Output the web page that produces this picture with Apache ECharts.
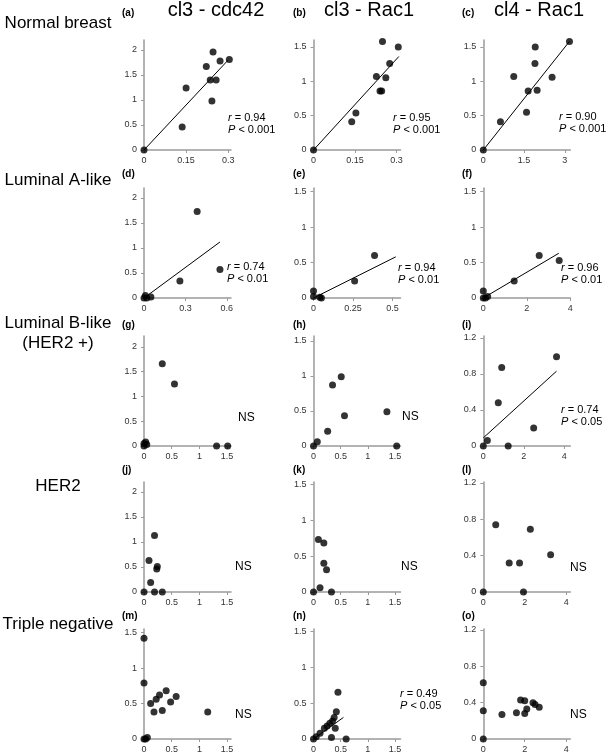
<!DOCTYPE html>
<html><head><meta charset="utf-8">
<script src="https://cdn.jsdelivr.net/npm/echarts@6/dist/echarts.min.js"></script>
<style>html,body{margin:0;padding:0;background:#fff}#c{width:607px;height:756px}</style>
</head><body><div id="c"></div>
<script>
// ---------- data ----------
const columnTitles = ['cl3 - cdc42', 'cl3 - Rac1', 'cl4 - Rac1'];
const rowLabels = ['Normal breast', 'Luminal A-like', 'Luminal B-like\n(HER2 +)', 'HER2', 'Triple negative'];
const panelLetters = ['(a)','(b)','(c)','(d)','(e)','(f)','(g)','(h)','(i)','(j)','(k)','(l)','(m)','(n)','(o)'];

// points per panel [x, y]
const ptsA = [[0,0],[0.136,0.46],[0.15,1.24],[0.222,1.67],[0.246,1.96],[0.271,1.78],[0.304,1.81],[0.236,1.4],[0.257,1.4],[0.242,0.98]];
const ptsB = [[0,0],[0.138,0.41],[0.153,0.54],[0.227,1.07],[0.249,1.58],[0.24,0.86],[0.246,0.86],[0.261,1.05],[0.275,1.26],[0.306,1.5]];
const ptsC = [[0,0],[0.63,0.41],[1.12,1.07],[1.59,0.55],[1.65,0.86],[1.91,1.5],[1.9,1.26],[1.98,0.87],[2.53,1.06],[3.17,1.58]];
const ptsD = [[0,0],[0.01,0.05],[0.05,0.02],[0.02,0],[0.385,1.73],[0.55,0.57],[0.26,0.34]];
const ptsE = [[0,0.1],[0,0.02],[0.04,0.01],[0.05,0],[0.386,0.6],[0.26,0.24]];
const ptsF = [[0,0.1],[0,0],[0.2,0.02],[0.1,0],[2.57,0.6],[3.49,0.53],[1.42,0.24]];
const ptsG = [[0,0],[0,0.05],[0.03,0.08],[0.05,0.03],[0.33,1.66],[0.55,1.25],[1.31,0],[1.51,0]];
const ptsH = [[0,0],[0.07,0.06],[0.51,0.99],[0.35,0.87],[0.57,0.43],[0.26,0.21],[1.35,0.49],[1.53,0]];
const ptsI = [[0,0],[0.2,0.06],[3.62,0.99],[0.91,0.87],[0.74,0.48],[2.49,0.2],[1.23,0]];
const ptsJ = [[0,0],[0.19,1.13],[0.09,0.63],[0.24,0.51],[0.23,0.46],[0.12,0.19],[0.19,0],[0.33,0]];
const ptsK = [[0,0],[0.09,0.73],[0.19,0.68],[0.19,0.4],[0.24,0.31],[0.12,0.06],[0.33,0]];
const ptsL = [[0,0],[0.6,0.74],[2.27,0.69],[1.25,0.32],[1.75,0.32],[3.25,0.41],[1.94,0]];
const ptsM = [[0,0],[0.03,0],[0.06,0.02],[0,1.42],[0,0.79],[0.12,0.5],[0.18,0.38],[0.22,0.56],[0.28,0.62],[0.33,0.4],[0.4,0.68],[0.48,0.52],[0.58,0.6],[1.15,0.38]];
const ptsN = [[0,0],[0.05,0.03],[0.12,0.08],[0.2,0.15],[0.25,0.18],[0.3,0.22],[0.35,0.25],[0.38,0.3],[0.4,0.15],[0.42,0.38],[0.45,0.65],[0.33,0.02],[0.6,0]];
const ptsO = [[0,0],[0,0.31],[0,0.62],[0.9,0.27],[1.6,0.29],[1.8,0.43],[2.0,0.42],[2.0,0.28],[2.1,0.33],[2.4,0.4],[2.5,0.38],[2.7,0.35]];

// regression lines (endpoints, data units)
const fitA = [[0,0],[0.3,1.8]];
const fitB = [[0,0],[0.308,1.36]];
const fitC = [[0,0],[3.17,1.58]];
const fitD = [[0,0],[0.55,1.12]];
const fitE = [[0,0],[0.52,0.58]];
const fitF = [[0,0],[3.47,0.63]];
const fitI = [[0,0.09],[3.62,0.83]];
const fitN = [[0,0],[0.55,0.3]];

// annotations
const statText = {a:['0.94','< 0.001'], b:['0.95','< 0.001'], c:['0.90','< 0.001'], d:['0.74','< 0.01'], e:['0.94','< 0.01'], f:['0.96','< 0.01'], i:['0.74','< 0.05'], n:['0.49','< 0.05']};
const nsPanels = ['g','h','j','k','l','m','o'];

// axis extents & ticks
const xMax = [0.31,0.314,3.2, 0.63,0.55,4.0, 1.57,1.6,4.3, 1.57,1.6,4.2, 1.57,1.6,4.2];
const yMax = [2.2,1.6,1.6, 2.2,1.55,1.55, 2.22,1.57,1.22, 2.2,1.53,1.21, 1.55,1.53,1.21];
const xTicks = [[0,0.15,0.3],[0,0.15,0.3],[0,1.5,3],[0,0.3,0.6],[0,0.25,0.5],[0,2,4],
  [0,0.5,1,1.5],[0,0.5,1,1.5],[0,2,4],[0,0.5,1,1.5],[0,0.5,1,1.5],[0,2,4],[0,0.5,1,1.5],[0,0.5,1,1.5],[0,2,4]];
const yTicksA = [0,0.5,1,1.5,2], yTicksB = [0,0.5,1,1.5], yTicksC = [0,0.4,0.8,1.2];
const yTicks = [yTicksA,yTicksB,yTicksB, yTicksA,yTicksB,yTicksB, yTicksA,yTicksB,yTicksC, yTicksA,yTicksB,yTicksC, yTicksB,yTicksB,yTicksC];

// ---------- layout ----------
const keys = 'abcdefghijklmno'.split('');
const allPts = [ptsA,ptsB,ptsC,ptsD,ptsE,ptsF,ptsG,ptsH,ptsI,ptsJ,ptsK,ptsL,ptsM,ptsN,ptsO];
const allFits = [fitA,fitB,fitC,fitD,fitE,fitF,null,null,fitI,null,null,null,null,fitN,null];
const colX = [144, 313.5, 483.3];
const rowBase = [150, 298, 446, 592, 739];
const W = 87, H = 110;
const axisColor = '#9a9a9a';

const grid = [], xAxis = [], yAxis = [], series = [], graphic = [];
keys.forEach((k, i) => {
  const r = Math.floor(i / 3), c = i % 3;
  grid.push({left: colX[c], top: rowBase[r] - H, width: W, height: H});
  xAxis.push({type:'value', gridIndex:i, min:0, max:xMax[i],
    axisLine:{show:true, onZero:false, lineStyle:{color:axisColor, width:1.5}},
    axisTick:{show:true, length:3, customValues:xTicks[i], lineStyle:{color:axisColor}},
    axisLabel:{customValues:xTicks[i], fontSize:9, color:'#333', margin:6, fontFamily:'Liberation Sans'},
    splitLine:{show:false}});
  yAxis.push({type:'value', gridIndex:i, min:0, max:yMax[i],
    axisLine:{show:true, onZero:false, lineStyle:{color:axisColor, width:1.5}},
    axisTick:{show:true, length:3, customValues:yTicks[i], lineStyle:{color:axisColor}},
    axisLabel:{customValues:yTicks[i], fontSize:9, color:'#333', margin:7, fontFamily:'Liberation Sans'},
    splitLine:{show:false}});
  if (allFits[i]) series.push({type:'line', xAxisIndex:i, yAxisIndex:i, data:allFits[i], symbol:'none',
    lineStyle:{color:'#000', width:1}, silent:true, z:2});
  series.push({type:'scatter', xAxisIndex:i, yAxisIndex:i, data:allPts[i], symbolSize:7, clip:false,
    itemStyle:{color:'#000'}, z:3});
});

// panel letters
const letterX = [122, 293, 462];
const letterY = [14, 175, 326, 471, 617];
keys.forEach((k, i) => {
  const r = Math.floor(i / 3), c = i % 3;
  graphic.push({type:'text', left:letterX[c], top:letterY[r]-6,
    style:{text:panelLetters[i], font:'bold 10px "Liberation Sans"', fill:'#000'}});
});
// column titles
const titleCX = [216, 369, 539];
columnTitles.forEach((t, c) => graphic.push({type:'text', x:titleCX[c], y:10,
  style:{text:t, font:'20px "Liberation Sans"', fill:'#000', textAlign:'center', textVerticalAlign:'middle'}}));
// row labels
const rowLabelY = [23, 180, 333, 486, 624];
rowLabels.forEach((t, r) => graphic.push({type:'text', x:58, y:rowLabelY[r],
  style:{text:t, font:'17px "Liberation Sans"', fill:'#000', textAlign:'center', textVerticalAlign:'middle', lineHeight:20}}));
// statistics
const statX = {a:228, b:393, c:559, d:227, e:398, f:561, i:561, n:400};
const statY = {a:124, b:124, c:123, d:273, e:274, f:274, i:416, n:700};
Object.keys(statText).forEach(k => {
  const s = statText[k];
  graphic.push({type:'text', x:statX[k], y:statY[k],
    style:{text:'{i|r} = ' + s[0] + '\n{i|P} ' + s[1], font:'11px "Liberation Sans"', fill:'#000', textVerticalAlign:'middle', lineHeight:12,
      rich:{i:{fontStyle:'italic', fontSize:11, fontFamily:'Liberation Sans'}}}});
});
const nsX = {g:238, h:402, j:235, k:401, l:570, m:235, o:570};
const nsY = {g:418, h:417, j:567, k:567, l:568, m:715, o:715};
nsPanels.forEach(k => graphic.push({type:'text', x:nsX[k], y:nsY[k],
  style:{text:'NS', font:'12px "Liberation Sans"', fill:'#000', textVerticalAlign:'middle'}}));

const chart = echarts.init(document.getElementById('c'));
chart.setOption({animation:false, grid, xAxis, yAxis, series, graphic});
</script></body></html>
